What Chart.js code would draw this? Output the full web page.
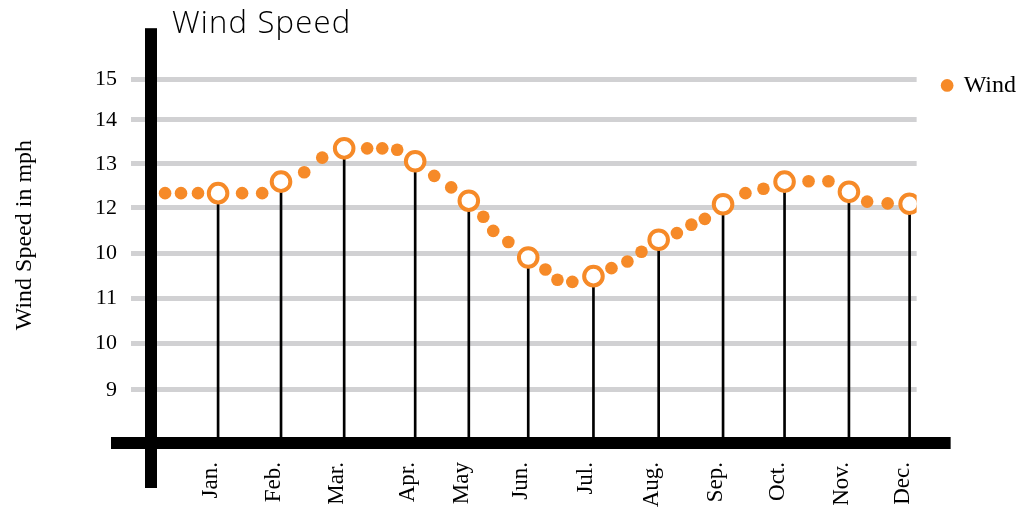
<!DOCTYPE html>
<html>
<head>
<meta charset="utf-8">
<title>Wind Speed</title>
<script src="https://cdn.jsdelivr.net/npm/chart.js@4/dist/chart.umd.min.js"></script>
<style>
  html, body { margin: 0; padding: 0; background: #ffffff; }
  #wrap { width: 1020px; height: 511px; position: relative; }
</style>
</head>
<body>
<div id="wrap"><canvas id="chart" width="1020" height="511"></canvas></div>
<script>
// Day-of-year of each monthly reading (open circle on a stem)
const monthDays = [15, 45.4, 75.9, 110.2, 136.1, 164.8, 196.3, 227.8, 258.9, 288.6, 319.7, 349];
const monthLabels = ['Jan.', 'Feb.', 'Mar.', 'Apr.', 'May', 'Jun.', 'Jul.', 'Aug.', 'Sep.', 'Oct.', 'Nov.', 'Dec.'];
const monthWind = [12.43, 12.69, 13.44, 13.15, 12.26, 10.98, 10.56, 11.38, 12.18, 12.69, 12.46, 12.19];

// Readings between the monthly ones (filled dots); negative days are late December
const windDays = [-10.6, -2.9, 5.3, 26.6, 36.3, 56.6, 65.3, 87.0, 94.3, 101.5,
                  119.4, 127.6, 143.1, 147.9, 155.2, 173.1, 178.9, 186.1, 205.0, 212.7,
                  219.5, 236.6, 243.6, 250.1, 269.7, 278.4, 300.2, 309.8, 328.5, 338.4];
const windValues = [12.43, 12.43, 12.43, 12.43, 12.43, 12.90, 13.23, 13.44, 13.44, 13.41,
                    12.82, 12.56, 11.90, 11.58, 11.33, 10.71, 10.48, 10.43, 10.74, 10.89,
                    11.11, 11.53, 11.72, 11.85, 12.43, 12.53, 12.70, 12.70, 12.24, 12.20];

// Value axis: where each gridline sits and the label printed beside it
const yTickValues = [8.00, 9.05, 10.06, 11.07, 12.10, 13.09, 14.08, 15.00];
const yTickLabels = ['9', '10', '11', '10', '12', '13', '14', '15'];

const ORANGE = '#F68A28';
const SERIF = '"Liberation Serif", "Times New Roman", serif';

const monthPoints = monthDays.map((d, i) => ({ x: d, y: monthWind[i] }));
const windPoints = windDays.map((d, i) => ({ x: d, y: windValues[i] }));

// Heavy black axis bars and the heading
const frameAndHeading = {
  id: 'frameAndHeading',
  afterDraw(chart) {
    const { ctx, chartArea: a } = chart;
    ctx.save();
    ctx.fillStyle = '#000000';
    ctx.fillRect(a.left - 6, a.top + 1, 12, a.bottom - a.top + 44);
    ctx.fillRect(a.left - 40, a.bottom - 6, a.right - a.left + 74, 12);
    ctx.font = '300 31px "Open Sans", Lato, sans-serif';
    if ('letterSpacing' in ctx) ctx.letterSpacing = '1.2px';
    ctx.textBaseline = 'alphabetic';
    ctx.textAlign = 'left';
    ctx.fillText('Wind Speed', a.left + 21, 33);
    ctx.restore();
  }
};

new Chart(document.getElementById('chart'), {
  type: 'scatter',
  data: {
    datasets: [
      {
        label: 'Monthly',
        data: monthPoints,
        pointRadius: 9.3,
        pointHoverRadius: 9.3,
        borderWidth: 4,
        pointBorderWidth: 4,
        borderColor: ORANGE,
        backgroundColor: '#ffffff',
        showLine: false
      },
      {
        label: 'Wind',
        data: windPoints,
        pointRadius: 6.3,
        pointHoverRadius: 6.3,
        borderWidth: 0,
        pointBorderWidth: 0,
        backgroundColor: ORANGE,
        borderColor: ORANGE,
        pointStyle: 'circle',
        showLine: false
      },
      {
        type: 'bar',
        label: 'Stems',
        data: monthPoints,
        backgroundColor: '#000000',
        borderWidth: 0,
        barThickness: 2
      }
    ]
  },
  options: {
    responsive: false,
    animation: false,
    events: [],
    layout: { padding: { top: 25, right: -6, left: 0, bottom: 0 } },
    plugins: {
      tooltip: { enabled: false },
      title: { display: false },
      legend: {
        position: 'right',
        align: 'start',
        title: { display: true, text: '', padding: { top: 8, bottom: 0 } },
        labels: {
          usePointStyle: true,
          pointStyle: 'circle',
          boxWidth: 9,
          boxHeight: 9,
          padding: 26,
          color: '#000000',
          font: { family: SERIF, size: 24 },
          filter: (item) => item.datasetIndex === 1
        }
      }
    },
    scales: {
      x: {
        type: 'linear',
        min: -17.4,
        max: 352.4,
        offset: false,
        grid: { display: false, drawTicks: false },
        border: { display: false },
        afterBuildTicks: (scale) => { scale.ticks = monthDays.map(v => ({ value: v })); },
        afterFit: (scale) => { scale.height = 68; },
        ticks: {
          autoSkip: false,
          minRotation: 90,
          maxRotation: 90,
          labelOffset: -7,
          padding: 19,
          color: '#000000',
          font: { family: SERIF, size: 23 },
          callback: (value, index) => monthLabels[index]
        }
      },
      y: {
        type: 'linear',
        min: 6.8,
        max: 16.17,
        grid: { color: '#d1d1d3', lineWidth: 5, drawTicks: true, tickLength: 20, tickColor: '#d1d1d3', tickWidth: 5 },
        border: { display: false },
        afterBuildTicks: (scale) => { scale.ticks = yTickValues.map(v => ({ value: v })); },
        afterFit: (scale) => { scale.width = 151; },
        ticks: {
          padding: 14,
          color: '#000000',
          font: { family: SERIF, size: 22 },
          callback: (value, index) => yTickLabels[index]
        },
        title: {
          display: true,
          text: 'Wind Speed in mph',
          color: '#000000',
          font: { family: SERIF, size: 24 },
          padding: { top: 10, bottom: 0 }
        }
      }
    }
  },
  plugins: [frameAndHeading]
});
</script>
</body>
</html>
